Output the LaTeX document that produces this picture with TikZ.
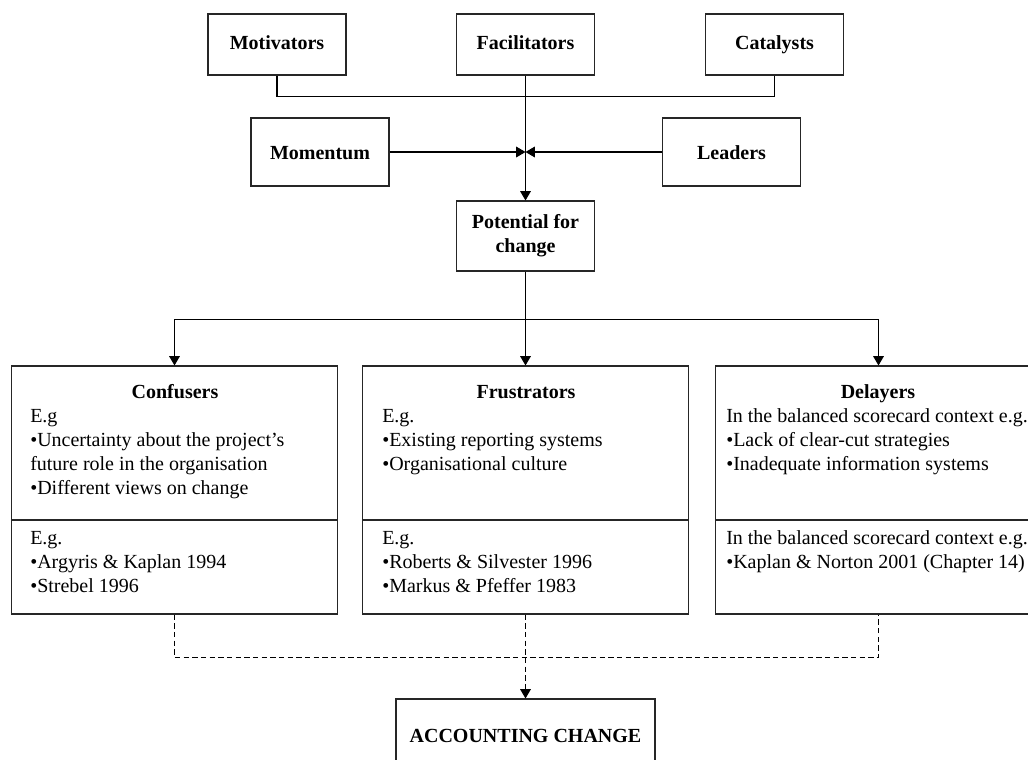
\documentclass[tikz,border=0pt]{standalone}
\usepackage{fontspec}
\setmainfont{Liberation Serif}
\usetikzlibrary{arrows.meta}
\begin{document}
\begin{tikzpicture}[x=0.75pt,y=-0.75pt,
  font=\fontsize{15}{18}\selectfont,
  box/.style={draw=black!85, line width=0.8pt, inner sep=0pt,
    font=\fontsize{15}{18}\selectfont\bfseries},
  onebox/.style={box, text height=10.5pt, text depth=3.5pt},
  lowbox/.style={box, text height=12.5pt, text depth=1.5pt},
  topbox/.style={onebox, minimum width=103.5pt, minimum height=45.75pt},
  sidebox/.style={lowbox, minimum width=103.5pt, minimum height=51pt},
  bigbox/.style={draw=black!85, line width=0.8pt, minimum width=244.5pt,
    minimum height=186pt, inner sep=0pt},
  link/.style={line width=0.8pt},
  tip/.style={-{Triangle[length=7pt,width=8pt]}},
  dashlink/.style={link, dash pattern=on 4pt off 2.5pt},
  body/.style={anchor=base west, align=left, inner sep=0pt},
  head/.style={anchor=base, inner sep=0pt, font=\fontsize{15}{18}\selectfont\bfseries}]
\useasboundingbox (0,0) rectangle (1028,760);

% top row of influences
\node[topbox] (mot) at (277,44.5) {Motivators};
\node[topbox] (fac) at (525.5,44.5) {Facilitators};
\node[topbox] (cat) at (774.5,44.5) {Catalysts};

% side influences
\node[sidebox] (mom) at (320,152) {Momentum};
\node[sidebox] (lead) at (731.5,152) {Leaders};

% potential for change
\node[box, align=center, minimum width=103.5pt, minimum height=52.5pt] (pot) at (525.5,236) {Potential for\\change};

% barrier boxes
\node[bigbox] (conf) at (174.5,490) {};
\node[bigbox] (frus) at (525.5,490) {};
\node[bigbox] (del) at (878.5,490) {};

\foreach \b in {conf,frus,del}
  \draw[link, draw=black!85] (\b.west |- 0,520) -- (\b.east |- 0,520);

% confusers text (each block is placed by the baseline of its last line)
\node[head] (confh) at (175,398) {Confusers};
\node[body] (conft) at (30,494) {E.g\\\textbullet Uncertainty about the project’s\\future role in the organisation\\\textbullet Different views on change};
\node[body] (confb) at (30,592) {E.g.\\\textbullet Argyris \& Kaplan 1994\\\textbullet Strebel 1996};

% frustrators text
\node[head] (frush) at (526,398) {Frustrators};
\node[body] (frust) at (382,470) {E.g.\\\textbullet Existing reporting systems\\\textbullet Organisational culture};
\node[body] (frusb) at (382,592) {E.g.\\\textbullet Roberts \& Silvester 1996\\\textbullet Markus \& Pfeffer 1983};

% delayers text
\node[head] (delh) at (878,398) {Delayers};
\node[body] (delt) at (726,470) {In the balanced scorecard context e.g.\\\textbullet Lack of clear-cut strategies\\\textbullet Inadequate information systems};
\node[body] (delb) at (726,568) {In the balanced scorecard context e.g.\\\textbullet Kaplan \& Norton 2001 (Chapter 14)};

% outcome
\node[lowbox, minimum width=194.25pt, minimum height=54pt] (acc) at (525.5,735) {ACCOUNTING CHANGE};

% connectors: influences
\draw[link] (mot.south) -- ++(0,21) -| (cat.south);
\draw[link, tip] (fac.south) -- (pot.north);
\draw[link, tip] (mom.east) -- (mom.east -| fac.south);
\draw[link, tip] (lead.west) -- (lead.west -| fac.south);

% connectors: potential to barriers
\draw[link] (pot.south) -- ++(0,48) coordinate (split);
\draw[link, tip] (split) -| (conf.north);
\draw[link, tip] (split) -| (del.north);
\draw[link, tip] (split) -- (frus.north);

% dashed connectors to the outcome
\draw[dashlink] (conf.south) -- ++(0,43) -| (del.south);
\draw[dashlink, tip] (frus.south) -- (acc.north);
\end{tikzpicture}
\end{document}
